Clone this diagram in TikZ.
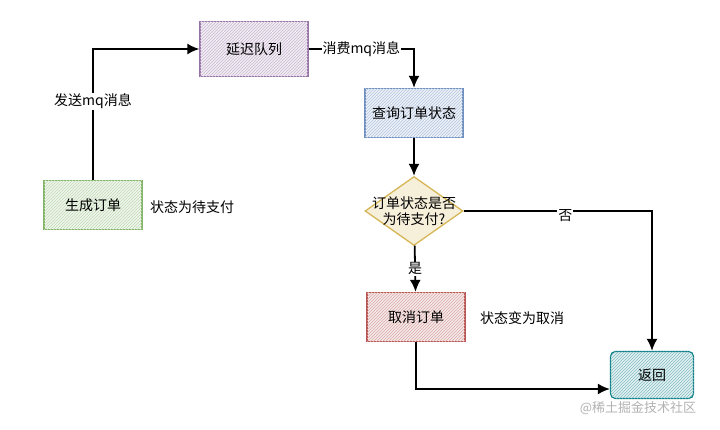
\documentclass[tikz,border=0pt]{standalone}
\usepackage{fontspec}
\setmainfont{Noto Sans CJK SC}
\usepackage{tikz}
\usetikzlibrary{arrows.meta,shapes.geometric,patterns}

\definecolor{purpleline}{HTML}{9673A6}
\definecolor{greenline}{HTML}{82B366}
\definecolor{blueline}{HTML}{6C8EBF}
\definecolor{yellowline}{HTML}{D6B656}
\definecolor{redline}{HTML}{B85450}
\definecolor{tealline}{HTML}{0E8088}

\begin{document}
\begin{tikzpicture}[x=1pt, y=-1pt, font=\fontsize{14}{17}\selectfont]
	\tikzset{box/.style = {shape=rectangle, draw=#1, fill=#1!12, line width=1.3pt, minimum width=98pt, minimum height=49pt, inner sep=0pt,
		postaction={pattern=north east lines, pattern color=#1!50}}}
	\tikzset{edge/.style = {->, > = {Latex[length=12pt, width=11pt]}, line width=1.8pt}}
	\tikzset{tag/.style = {fill=white, inner sep=1pt}}
	\useasboundingbox (0,0) rectangle (720,430);
	\node[box=purpleline, minimum width=108pt, minimum height=55pt] (queue) at (254, 49) {延迟队列};
	\node[box=greenline] (create) at (93, 205) {生成订单};
	\node[box=blueline] (query) at (414, 113) {查询订单状态};
	\node[shape=diamond, draw=yellowline, fill=yellowline!22, line width=1.3pt, minimum width=98pt, minimum height=69pt, inner sep=0pt,
		label={[align=center, font=\fontsize{14}{16}\selectfont]center:订单状态是否\\为待支付?}] (check) at (414, 211) {};
	\node[box=redline] (cancel) at (416, 317) {取消订单};
	\node[box=tealline, rounded corners=5pt, minimum width=83pt, minimum height=47pt] (back) at (652, 375) {返回};
	\node (waitpay) at (192, 207) {状态为待支付};
	\node (cancelled) at (522, 318) {状态变为取消};
	\node[text=black!30, font=\fontsize{13}{15}\selectfont] (mark) at (638, 408) {@稀土掘金技术社区};
	\draw[edge] (create.north) |- (queue.west) node[tag, pos=0.3] {发送mq消息};
	\draw[edge] (queue.east) -| (query.north) node[tag, pos=0.25] {消费mq消息};
	\draw[edge] (query) to (check);
	\draw[edge] (check) to node[tag] {是} (cancel);
	\draw[edge] (check.east) -| (back.north) node[tag, pos=0.27, yshift=-5pt] {否};
	\draw[edge] (cancel.south) |- (back.west |- 0, 389);
\end{tikzpicture}
\end{document}
